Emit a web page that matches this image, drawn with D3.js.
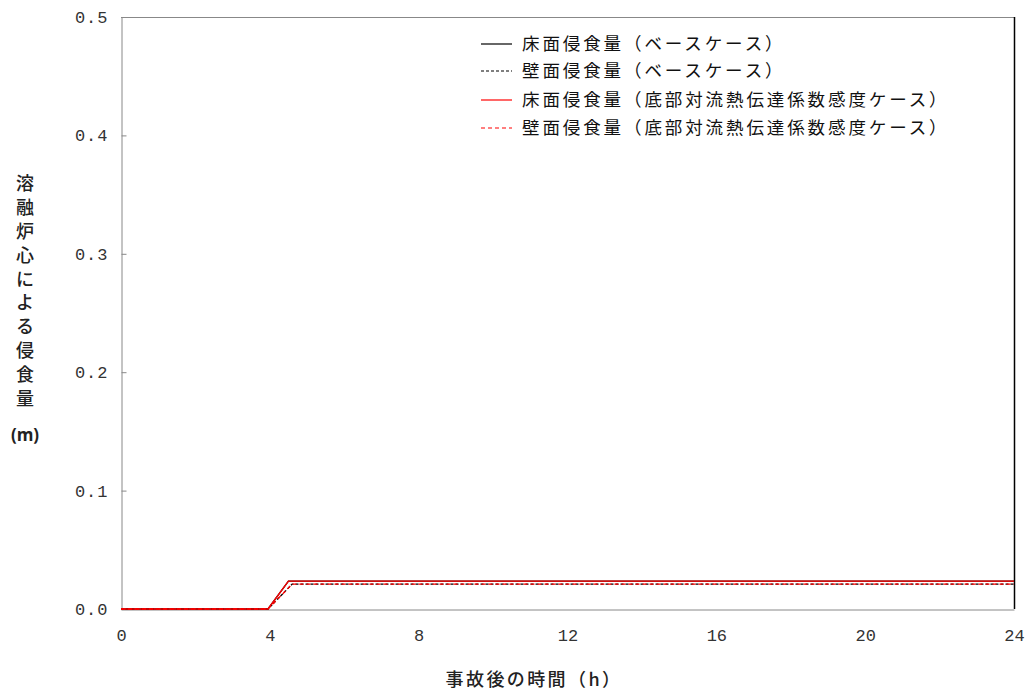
<!DOCTYPE html>
<html><head><meta charset="utf-8">
<script src="https://cdn.jsdelivr.net/npm/d3@7"></script>
<style>body{margin:0;background:#fff;} text{font-family:"Noto Sans CJK JP","DejaVu Sans",sans-serif;}</style>
</head><body><svg id="c" width="1030" height="695"></svg>
<script>
const xTicks = [0,4,8,12,16,20,24];
const yTicks = [0,0.1,0.2,0.3,0.4,0.5];
const seriesNames = ["床面侵食量（ベースケース）","壁面侵食量（ベースケース）","床面侵食量（底部対流熱伝達係数感度ケース）","壁面侵食量（底部対流熱伝達係数感度ケース）"];
const seriesColors = ["#000000","#000000","#ff0000","#ff0000"];
const seriesDash = [null,"3,2",null,"4,3"];
const baseFloor = [[0,0],[3.95,0],[4.5,0.0235],[24,0.0235]];
const baseWall  = [[0,0],[3.95,0],[4.6,0.021],[24,0.021]];
const sensFloor = [[0,0],[3.95,0],[4.5,0.0235],[24,0.0235]];
const sensWall  = [[0,0],[3.95,0],[4.6,0.021],[24,0.021]];
const seriesData = [baseFloor, baseWall, sensFloor, sensWall];

const svg = d3.select("#c");
const L=121,T=17,R=1014,B=609;
const x = d3.scaleLinear().domain([0,24]).range([L,R]);
const y = d3.scaleLinear().domain([0,0.5]).range([B,T]);

svg.append("line").attr("x1",L).attr("x2",R).attr("y1",T+0.5).attr("y2",T+0.5).attr("stroke","#888");
svg.append("line").attr("x1",R+0.5).attr("x2",R+0.5).attr("y1",T).attr("y2",B).attr("stroke","#000").attr("stroke-width",1.5);

const yAx = svg.append("g").attr("transform",`translate(${L+0.5},0)`)
  .call(d3.axisRight(y).tickValues(yTicks).tickSize(5).tickFormat(d3.format(".1f")));
yAx.select(".domain").attr("stroke","#888");
yAx.selectAll(".tick line").attr("stroke","#888");
yAx.selectAll(".tick text").attr("x",-13).attr("text-anchor","end").attr("font-size",17).attr("fill","#333")
  .style("font-family","'Liberation Mono','DejaVu Sans Mono',monospace").style("letter-spacing","1px");

const xAx = svg.append("g").attr("transform",`translate(0,${B+0.5})`)
  .call(d3.axisTop(x).tickValues(xTicks).tickSize(0).tickFormat(d3.format("d")));
xAx.select(".domain").attr("stroke","#888");
xAx.selectAll(".tick text").attr("y",26).attr("dy","0.32em").attr("font-size",17).attr("fill","#333")
  .style("font-family","'Liberation Mono','DejaVu Sans Mono',monospace");

const line = d3.line().x(d=>x(d[0])).y(d=>y(d[1]));
seriesData.forEach((s,i)=>{
  svg.append("path").attr("d",line(s)).attr("fill","none").attr("stroke",seriesColors[i])
    .attr("stroke-width",1.3).attr("stroke-dasharray",seriesDash[i]);
});

const ly = [44,71,100,128];
seriesNames.forEach((n,i)=>{
  svg.append("line").attr("x1",481).attr("x2",512).attr("y1",ly[i]).attr("y2",ly[i])
    .attr("stroke",seriesColors[i]).attr("stroke-width",1.2).attr("stroke-dasharray",seriesDash[i]);
  svg.append("text").attr("x",522).attr("y",ly[i]).attr("dy","0.36em").attr("font-size",17.5)
    .style("letter-spacing","2.9px").attr("fill","#111").text(n);
});

const yl = "溶融炉心による侵食量".split("");
yl.forEach((c,i)=>{
  svg.append("text").attr("x",25).attr("y",184+i*23.8).attr("dy","0.36em").attr("text-anchor","middle")
    .attr("font-size",18).attr("font-weight",500).attr("fill","#222").text(c);
});
svg.append("text").attr("x",25).attr("y",435).attr("dy","0.36em").attr("text-anchor","middle")
  .attr("font-size",17).attr("font-weight","bold").attr("fill","#222").style("font-family","'Open Sans',sans-serif").text("(m)");

svg.append("text").attr("x",534).attr("y",680).attr("dy","0.36em").attr("text-anchor","middle")
  .attr("font-size",18).attr("font-weight",500).style("letter-spacing","2.4px").attr("fill","#222").text("事故後の時間（h）");
</script></body></html>
